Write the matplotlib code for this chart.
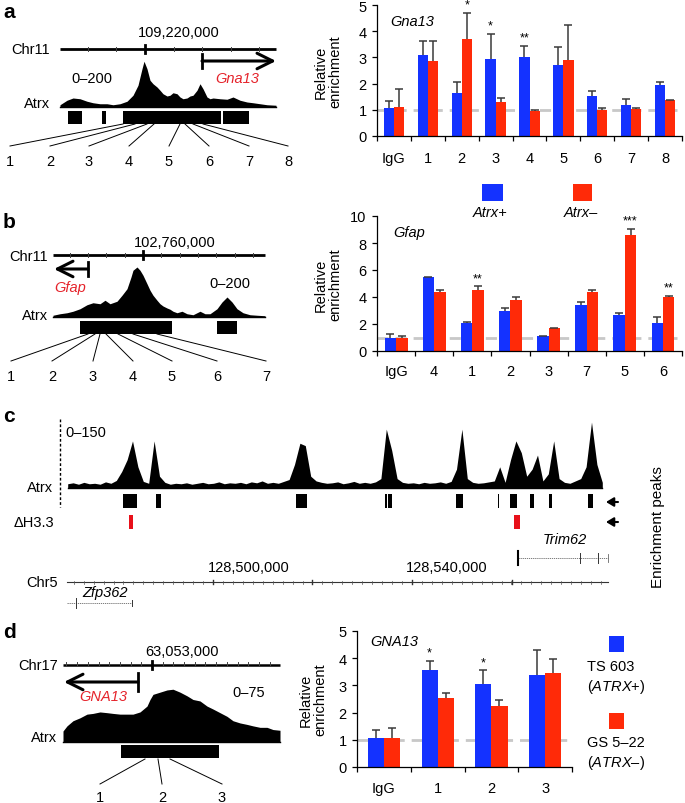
import numpy as np
import matplotlib.pyplot as plt
from matplotlib.patches import Rectangle

plt.rcParams['font.family'] = ['Liberation Sans', 'DejaVu Sans']
plt.rcParams['font.size'] = 10.5
plt.rcParams['mathtext.fontset'] = 'custom'
plt.rcParams['mathtext.rm'] = 'Liberation Sans'
plt.rcParams['mathtext.it'] = 'Liberation Sans:italic'

W, H = 685, 804
BLUE = '#1432ff'
RED = '#ff2a08'
GENE_RED = '#e5232b'
ERR = '#3a3a3a'

# ---------------- ChIP-qPCR data (bar height, upper error) ----------------
a_cats = ['IgG', '1', '2', '3', '4', '5', '6', '7', '8']
a_plus = [1.05, 3.10, 1.65, 2.95, 3.00, 2.72, 1.52, 1.20, 1.95]
a_plus_err = [0.30, 0.52, 0.43, 0.95, 0.45, 0.68, 0.20, 0.23, 0.12]
a_minus = [1.12, 2.88, 3.72, 1.28, 0.95, 2.90, 1.00, 1.02, 1.38]
a_minus_err = [0.68, 0.74, 0.98, 0.17, 0.03, 1.32, 0.05, 0.05, 0.01]
a_stars = [(2, 1, '*'), (3, 0, '*'), (4, 0, '**')]

b_cats = ['IgG', '4', '1', '2', '3', '7', '5', '6']
b_plus = [1.00, 5.45, 2.05, 2.95, 1.08, 3.40, 2.68, 2.10]
b_plus_err = [0.25, 0.06, 0.12, 0.25, 0.03, 0.20, 0.15, 0.45]
b_minus = [1.00, 4.40, 4.50, 3.75, 1.70, 4.35, 8.60, 4.00]
b_minus_err = [0.10, 0.15, 0.30, 0.25, 0.02, 0.15, 0.45, 0.08]
b_stars = [(2, 1, '**'), (6, 1, '***'), (7, 1, '**')]

d_cats = ['IgG', '1', '2', '3']
d_plus = [1.05, 3.57, 3.05, 3.38]
d_plus_err = [0.30, 0.33, 0.50, 0.92]
d_minus = [1.08, 2.55, 2.25, 3.45]
d_minus_err = [0.37, 0.17, 0.22, 0.53]
d_stars = [(1, 0, '*'), (2, 0, '*')]

# ---------------- Atrx ChIP-seq tracks (locus position, signal) ----------------
a_sig_pos = [60, 67, 73, 80, 87, 93, 100, 107, 113, 120, 127, 133, 138, 142, 144, 147, 150, 153,
             157, 160, 163, 167, 170, 173, 177, 180, 183, 187, 190, 193, 197, 200, 203, 207, 210,
             213, 220, 227, 233, 240, 247, 253, 260, 267, 276]
a_sig = [9, 27, 36, 33, 23, 17, 13, 13, 9, 13, 23, 47, 87, 153, 183, 153, 107, 93, 80, 67, 53, 44,
         47, 57, 53, 40, 33, 36, 44, 47, 67, 93, 73, 40, 33, 36, 33, 31, 40, 27, 20, 17, 13, 9, 7]
a_peaks = [(68, 82), (102, 106), (123, 221), (223, 249)]
a_primer_pos = [123, 135, 147, 154, 180, 185, 193, 203]
a_primer_lab = ['1', '2', '3', '4', '5', '6', '7', '8']
a_lab_pos = [10, 50, 89, 129, 169, 209, 249, 288]

b_sig_pos = [53, 60, 67, 73, 80, 87, 93, 100, 105, 110, 117, 122, 127, 131, 133, 137, 140, 143,
             147, 150, 153, 157, 160, 163, 167, 170, 173, 177, 182, 187, 193, 200, 205, 210, 217,
             222, 227, 232, 237, 243, 250, 257, 265]
b_sig = [7, 13, 17, 23, 33, 49, 57, 53, 67, 53, 63, 87, 113, 160, 187, 200, 187, 167, 133, 107, 87,
         67, 53, 44, 36, 31, 23, 17, 23, 13, 9, 23, 13, 13, 33, 60, 80, 60, 33, 17, 9, 7, 5]
b_peaks = [(80, 172), (217, 237)]
b_primer_pos = [88, 95, 100, 106, 118, 133, 157]
b_primer_lab = ['1', '2', '3', '4', '5', '6', '7']
b_lab_pos = [11, 52, 93, 133, 172, 217, 266]

c_sig = [9, 11, 8, 12, 9, 10, 8, 13, 10, 16, 35, 60, 100, 45, 14, 10, 100, 25, 12, 8,
         10, 9, 11, 8, 10, 12, 9, 10, 13, 9, 11, 10, 12, 9, 13, 11, 15, 10, 12, 10,
         14, 18, 50, 95, 90, 25, 15, 12, 10, 11, 13, 9, 11, 14, 10, 12, 10, 13, 20, 125,
         80, 20, 12, 10, 11, 9, 12, 10, 11, 13, 10, 14, 40, 125, 20, 12, 10, 11, 13, 15,
         45, 12, 60, 100, 75, 25, 40, 70, 15, 30, 100, 20, 12, 10, 15, 20, 45, 140, 50, 12]
c_peaks = [(123, 137), (156, 161), (296, 307), (385, 387), (388, 392), (456, 463),
           (498, 499), (510, 517), (530, 534), (549, 552), (588, 593)]
c_h33 = [(129, 133), (514, 520)]

d_sig_pos = [63, 67, 73, 80, 87, 93, 100, 107, 113, 120, 127, 133, 140, 147, 150, 153, 160, 167,
             173, 180, 187, 193, 200, 207, 213, 220, 227, 233, 240, 247, 253, 260, 267, 273, 280]
d_sig = [15, 22, 29, 33, 38, 39, 41, 40, 39, 38, 38, 38, 41, 49, 58, 65, 68, 71, 72, 68, 63, 58,
         56, 49, 45, 40, 35, 29, 26, 24, 22, 20, 20, 17, 16]
d_peaks = [(121, 219)]
d_primer_pos = [145, 158, 170]
d_primer_lab = ['1', '2', '3']
d_lab_pos = [100, 162, 222]

fig = plt.figure(figsize=(W / 100, H / 100), dpi=100)

# one overlay in pixel coordinates for the genome-browser schematics
ov = fig.add_axes([0, 0, 1, 1])
ov.set_xlim(0, W)
ov.set_ylim(H, 0)
ov.axis('off')


def px_axes(x0, y0, x1, y1):
    return fig.add_axes([x0 / W, 1 - y1 / H, (x1 - x0) / W, (y1 - y0) / H])


def signal(pos, vals, base, scale):
    ys = base - np.array(vals) * scale
    ov.fill_between(pos, base, ys, color='k', lw=0)
    ov.plot([pos[0], pos[-1]], [base, base], color='k', lw=1)


def blocks(peaks, y0, y1, color='k'):
    for s, e in peaks:
        ov.add_patch(Rectangle((s, y0), e - s, y1 - y0, color=color, lw=0))


def fan(starts, ends, labels, y0, y1, ylab):
    for s, e, lab in zip(starts, ends, labels):
        ov.plot([s, e], [y0, y1], color='k', lw=0.7)
        ov.text(e, ylab, lab, ha='center', va='center')


def ruler(x0, x1, y, major, step, lw, tick_lo=1.8, tick_hi=1.8, major_h=4):
    ov.plot([x0, x1], [y, y], color='k', lw=lw, solid_capstyle='butt')
    t = major - step
    while t > x0 + 2:
        ov.plot([t, t], [y - tick_hi, y + tick_lo], color='#444', lw=0.7)
        t -= step
    t = major + step
    while t < x1 - 2:
        ov.plot([t, t], [y - tick_hi, y + tick_lo], color='#444', lw=0.7)
        t += step
    ov.plot([major, major], [y - major_h, y + major_h], color='k', lw=2)


def gene_arrow(x_start, x_end, y, bar_h=7):
    ov.plot([x_start, x_start], [y - bar_h, y + bar_h], color='k', lw=2)
    ov.annotate('', xy=(x_end, y), xytext=(x_start, y),
                arrowprops=dict(arrowstyle='->,head_length=0.8,head_width=0.4',
                                lw=2.2, color='k', mutation_scale=14,
                                shrinkA=0, shrinkB=0))


# ---------------- panel a (locus) ----------------
ov.text(3, 12, 'a', fontsize=15, fontweight='bold', va='center')
ov.text(50, 50, 'Chr11', ha='right', va='center')
ruler(60, 276, 50, 145, 28.6, 2)
ov.text(179, 33, '109,220,000', ha='center', va='center')
gene_arrow(202, 276, 62)
ov.text(237, 79, 'Gna13', color=GENE_RED, style='italic', ha='center', va='center')
ov.text(92, 79, '0–200', ha='center', va='center')
ov.text(50, 104, 'Atrx', ha='right', va='center')
signal(a_sig_pos, a_sig, 108, 0.25)
blocks(a_peaks, 112, 125)
fan(a_primer_pos, a_lab_pos, a_primer_lab, 125, 147, 162)

# ---------------- panel b (locus) ----------------
ov.text(3, 222, 'b', fontsize=15, fontweight='bold', va='center')
ov.text(48, 257, 'Chr11', ha='right', va='center')
ruler(53, 265, 256, 143, 18.3, 2)
ov.text(175, 243, '102,760,000', ha='center', va='center')
gene_arrow(88, 54, 270)
ov.text(70, 288, 'Gfap', color=GENE_RED, style='italic', ha='center', va='center')
ov.text(230, 284, '0–200', ha='center', va='center')
ov.text(48, 316, 'Atrx', ha='right', va='center')
signal(b_sig_pos, b_sig, 318, 0.25)
blocks(b_peaks, 322, 335)
fan(b_primer_pos, b_lab_pos, b_primer_lab, 335, 362, 377)

# ---------------- panel c (locus) ----------------
ov.text(3, 417, 'c', fontsize=15, fontweight='bold', va='center')
ov.plot([60, 60], [420, 508], color='k', lw=1, ls=(0, (2, 1.5)))
ov.text(65, 433, '0–150', ha='left', va='center')
ov.text(53, 488, 'Atrx', ha='right', va='center')
c_pos = np.linspace(65, 605, len(c_sig) + 1)
c_pos = (c_pos[:-1] + c_pos[1:]) / 2
signal(c_pos, c_sig, 489, 0.471)
blocks(c_peaks, 495, 509)
ov.text(54, 523, 'ΔH3.3', ha='right', va='center')
blocks(c_h33, 516, 530, color='#e8101a')
for yy in (503, 523):
    ov.annotate('', xy=(606, yy), xytext=(618, yy),
                arrowprops=dict(arrowstyle='-|>,head_length=0.5,head_width=0.3',
                                lw=1.5, color='k', mutation_scale=9, shrinkA=0, shrinkB=0))
ov.text(658, 527, 'Enrichment peaks', rotation=90, ha='center', va='center', fontsize=11)
# Trim62 gene model
ov.text(565, 540, 'Trim62', style='italic', ha='center', va='center')
ov.plot([518, 608], [559, 559], color='#666', lw=0.6, ls=(0, (1.5, 1)))
ov.plot([518, 518], [552, 566], color='k', lw=1.5)
for gx in (580, 598):
    ov.plot([gx, gx], [554, 564], color='#333', lw=0.7)
ov.plot([608, 608], [555, 563], color='#666', lw=0.6)
# Chr5 ruler
ov.text(58, 583, 'Chr5', ha='right', va='center')
ov.plot([67, 608], [583, 583], color='#333', lw=0.8)
for tx in np.arange(213, 67, -9.95)[1:]:
    ov.plot([tx, tx], [582, 584.5], color='#555', lw=0.5)
for tx in np.arange(213, 608, 9.95)[1:]:
    ov.plot([tx, tx], [582, 584.5], color='#555', lw=0.5)
for tx in (213, 312, 412, 512):
    ov.plot([tx, tx], [580.5, 585], color='#333', lw=1)
ov.text(249, 568, '128,500,000', ha='center', va='center')
ov.text(447, 568, '128,540,000', ha='center', va='center')
ov.text(105, 593, 'Zfp362', style='italic', ha='center', va='center')
ov.plot([67, 132], [604, 604], color='#666', lw=0.6, ls=(0, (1.5, 1)))
ov.plot([76, 76], [599, 609], color='#333', lw=0.7)
ov.plot([132, 132], [601, 607], color='#333', lw=0.7)

# ---------------- panel d (locus) ----------------
ov.text(3, 633, 'd', fontsize=15, fontweight='bold', va='center')
ov.text(58, 666, 'Chr17', ha='right', va='center')
ruler(63, 280, 666, 152, 10.7, 1.8, tick_lo=0, tick_hi=3, major_h=4)
ov.text(182, 652, '63,053,000', ha='center', va='center')
gene_arrow(138, 64, 683, bar_h=9)
ov.text(103, 697, 'GNA13', color=GENE_RED, style='italic', ha='center', va='center')
ov.text(249, 693, '0–75', ha='center', va='center')
ov.text(57, 738, 'Atrx', ha='right', va='center')
signal(d_sig_pos, d_sig, 743, 0.733)
blocks(d_peaks, 746, 759)
fan(d_primer_pos, d_lab_pos, d_primer_lab, 760, 785, 798)


# ---------------- bar charts ----------------
def bar_panel(box, cats, plus, plus_err, minus, minus_err, stars, ymax, ystep, xpad):
    ax = px_axes(*box)
    ax.set_facecolor('none')
    n = len(cats)
    x = np.arange(n)
    w = 0.3
    px_per_unit = (box[2] - box[0]) / n
    cap = 4.0 / px_per_unit
    ax.axhline(1, color='#c8c8c8', lw=2, dashes=(4, 2.5), zorder=1)
    tops = []
    for off, vals, errs, col in [(-w / 2, plus, plus_err, BLUE), (w / 2, minus, minus_err, RED)]:
        vals = np.array(vals)
        top = vals + np.array(errs)
        ax.bar(x + off, vals, w, color=col, lw=0, zorder=2)
        ax.vlines(x + off, vals, top, color=ERR, lw=1.1, zorder=3)
        ax.hlines(top, x + off - cap, x + off + cap, color=ERR, lw=1.1, zorder=3)
        tops.append((x + off, top))
    for i, s, lab in stars:
        xs, top = tops[s]
        ax.text(xs[i], top[i] + ymax * 0.015, lab, ha='center', va='bottom', fontsize=9)
    ax.set_xlim(-0.5, n - 0.5)
    ax.set_ylim(0, ymax)
    ax.set_yticks(np.arange(0, ymax + 0.1, ystep))
    ax.set_xticks(x)
    ax.set_xticklabels(cats)
    ax.set_xticks(np.arange(n + 1) - 0.5, minor=True)
    ax.tick_params(axis='x', which='major', length=0, pad=xpad, labelsize=10.5)
    ax.tick_params(axis='x', which='minor', length=3.5, width=0.9, direction='out')
    ax.tick_params(axis='y', length=3.5, width=0.9, pad=4, labelsize=10.5)
    for sp in ('top', 'right'):
        ax.spines[sp].set_visible(False)
    for sp in ('left', 'bottom'):
        ax.spines[sp].set_linewidth(0.9)
    return ax


bar_panel((377, 6, 682, 137), a_cats, a_plus, a_plus_err, a_minus, a_minus_err, a_stars, 5, 1, 11)
ov.text(328, 72, 'Relative\nenrichment', rotation=90, ha='center', va='center', linespacing=1.1)
ov.text(390, 22, 'Gna13', style='italic', ha='left', va='center')

bar_panel((377, 217, 682, 352), b_cats, b_plus, b_plus_err, b_minus, b_minus_err, b_stars, 10, 2, 9.5)
ov.text(328, 285, 'Relative\nenrichment', rotation=90, ha='center', va='center', linespacing=1.1)
ov.text(393, 233, 'Gfap', style='italic', ha='left', va='center')

# Atrx+/- legend
ov.add_patch(Rectangle((482, 185), 21, 17, color=BLUE, lw=0))
ov.add_patch(Rectangle((573, 185), 19, 17, color=RED, lw=0))
ov.text(490, 213, 'Atrx+', style='italic', ha='center', va='center')
ov.text(581, 213, 'Atrx–', style='italic', ha='center', va='center')

bar_panel((357, 632, 572, 768), d_cats, d_plus, d_plus_err, d_minus, d_minus_err, d_stars, 5, 1, 10)
ov.text(313, 700, 'Relative\nenrichment', rotation=90, ha='center', va='center', linespacing=1.1)
ov.text(370, 642, 'GNA13', style='italic', ha='left', va='center')

ov.add_patch(Rectangle((609, 637), 15, 16, color=BLUE, lw=0))
ov.add_patch(Rectangle((609, 714), 15, 16, color=RED, lw=0))
ov.text(587, 667, 'TS 603', ha='left', va='center')
ov.text(587, 687, '($\\mathit{ATRX}$+)', ha='left', va='center')
ov.text(587, 743, 'GS 5–22', ha='left', va='center')
ov.text(587, 763, '($\\mathit{ATRX}$–)', ha='left', va='center')

fig.savefig('out.png', dpi=100)
